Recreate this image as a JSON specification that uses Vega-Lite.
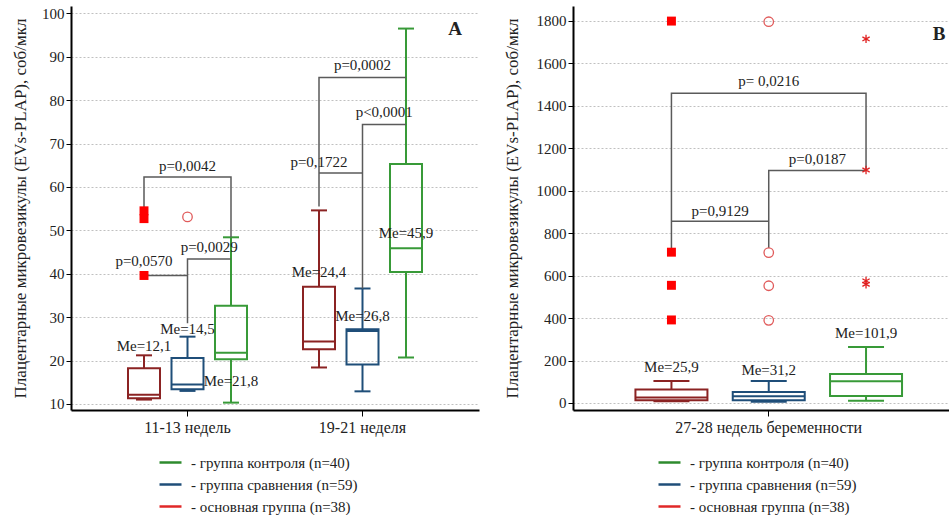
{
  "$schema": "https://vega.github.io/schema/vega-lite/v6.json",
  "padding": {"left": 11, "top": 6, "right": 0, "bottom": 0},
  "spacing": 24,
  "config": {
    "font": "Liberation Serif, Times New Roman, serif",
    "view": {"stroke": null},
    "text": {"font": "Liberation Serif, Times New Roman, serif"},
    "axis": {
      "labelFont": "Liberation Serif, Times New Roman, serif", "titleFont": "Liberation Serif, Times New Roman, serif",
      "domainColor": "#000", "domainWidth": 2, "tickColor": "#000", "tickWidth": 1, "tickSize": 5,
      "labelColor": "#222", "labelFontSize": 15, "titleColor": "#222", "titleFontSize": 17, "titleFontWeight": "normal",
      "gridColor": "#c0c0c0", "gridDash": [2, 2], "gridWidth": 1, "labelLimit": 400
    },
    "legend": {"labelFont": "Liberation Serif, Times New Roman, serif", "labelFontSize": 15, "labelColor": "#222", "labelLimit": 400}
  },
  "datasets": {
    "boxA": [
      {"period": "11-13 недель", "slot": "основная группа (n=38)", "low": 11.0, "q1": 11.3, "median": 12.1, "q3": 18.2, "high": 21.2},
      {"period": "11-13 недель", "slot": "группа сравнения (n=59)", "low": 13.0, "q1": 13.4, "median": 14.5, "q3": 20.6, "high": 25.5},
      {"period": "11-13 недель", "slot": "группа контроля (n=40)", "low": 10.3, "q1": 20.3, "median": 21.8, "q3": 32.6, "high": 48.4},
      {"period": "19-21 неделя", "slot": "основная группа (n=38)", "low": 18.4, "q1": 22.6, "median": 24.4, "q3": 37.0, "high": 54.6},
      {"period": "19-21 неделя", "slot": "группа сравнения (n=59)", "low": 12.9, "q1": 19.1, "median": 26.8, "q3": 27.2, "high": 36.6},
      {"period": "19-21 неделя", "slot": "группа контроля (n=40)", "low": 20.7, "q1": 40.4, "median": 45.9, "q3": 65.3, "high": 96.5}
    ],
    "boxB": [
      {"period": "27-28 недель беременности", "slot": "основная группа (n=38)", "low": 8, "q1": 12.8, "median": 25.9, "q3": 63, "high": 103.7},
      {"period": "27-28 недель беременности", "slot": "группа сравнения (n=59)", "low": 6, "q1": 12.8, "median": 31.2, "q3": 52, "high": 103.7},
      {"period": "27-28 недель беременности", "slot": "группа контроля (n=40)", "low": 11, "q1": 33, "median": 101.9, "q3": 137, "high": 264}
    ],
    "outA": [
      {"period": "11-13 недель", "slot": "основная группа (n=38)", "value": 39.6},
      {"period": "11-13 недель", "slot": "основная группа (n=38)", "value": 52.7},
      {"period": "11-13 недель", "slot": "основная группа (n=38)", "value": 54.5},
      {"period": "11-13 недель", "slot": "группа сравнения (n=59)", "value": 53.1}
    ],
    "outB": [
      {"period": "27-28 недель беременности", "slot": "основная группа (n=38)", "value": 1798},
      {"period": "27-28 недель беременности", "slot": "основная группа (n=38)", "value": 710},
      {"period": "27-28 недель беременности", "slot": "основная группа (n=38)", "value": 554},
      {"period": "27-28 недель беременности", "slot": "основная группа (n=38)", "value": 391},
      {"period": "27-28 недель беременности", "slot": "группа сравнения (n=59)", "value": 1795},
      {"period": "27-28 недель беременности", "slot": "группа сравнения (n=59)", "value": 708},
      {"period": "27-28 недель беременности", "slot": "группа сравнения (n=59)", "value": 552},
      {"period": "27-28 недель беременности", "slot": "группа сравнения (n=59)", "value": 389},
      {"period": "27-28 недель беременности", "slot": "группа контроля (n=40)", "value": 1714},
      {"period": "27-28 недель беременности", "slot": "группа контроля (n=40)", "value": 1097},
      {"period": "27-28 недель беременности", "slot": "группа контроля (n=40)", "value": 575},
      {"period": "27-28 недель беременности", "slot": "группа контроля (n=40)", "value": 559}
    ],
    "brA": [
      {"id": "b1", "ord": 1, "period": "11-13 недель", "slot": "основная группа (n=38)", "value": 55.3},
      {"id": "b1", "ord": 2, "period": "11-13 недель", "slot": "основная группа (n=38)", "value": 62.3},
      {"id": "b1", "ord": 3, "period": "11-13 недель", "slot": "группа контроля (n=40)", "value": 62.3},
      {"id": "b1", "ord": 4, "period": "11-13 недель", "slot": "группа контроля (n=40)", "value": 48.4},
      {"id": "b2", "ord": 1, "period": "11-13 недель", "slot": "основная группа (n=38)", "value": 39.6},
      {"id": "b2", "ord": 2, "period": "11-13 недель", "slot": "группа сравнения (n=59)", "value": 39.6},
      {"id": "b3", "ord": 1, "period": "11-13 недель", "slot": "группа сравнения (n=59)", "value": 28.6},
      {"id": "b3", "ord": 2, "period": "11-13 недель", "slot": "группа сравнения (n=59)", "value": 43.4},
      {"id": "b3", "ord": 3, "period": "11-13 недель", "slot": "группа контроля (n=40)", "value": 43.4},
      {"id": "b4", "ord": 1, "period": "19-21 неделя", "slot": "основная группа (n=38)", "value": 55.5},
      {"id": "b4", "ord": 2, "period": "19-21 неделя", "slot": "основная группа (n=38)", "value": 85.2},
      {"id": "b4", "ord": 3, "period": "19-21 неделя", "slot": "группа контроля (n=40)", "value": 85.2},
      {"id": "b5", "ord": 1, "period": "19-21 неделя", "slot": "основная группа (n=38)", "value": 63.2},
      {"id": "b5", "ord": 2, "period": "19-21 неделя", "slot": "группа сравнения (n=59)", "value": 63.2},
      {"id": "b6", "ord": 1, "period": "19-21 неделя", "slot": "группа сравнения (n=59)", "value": 36.6},
      {"id": "b6", "ord": 2, "period": "19-21 неделя", "slot": "группа сравнения (n=59)", "value": 74.4},
      {"id": "b6", "ord": 3, "period": "19-21 неделя", "slot": "группа контроля (n=40)", "value": 74.4}
    ],
    "brB": [
      {"id": "b7", "ord": 1, "period": "27-28 недель беременности", "slot": "основная группа (n=38)", "value": 730},
      {"id": "b7", "ord": 2, "period": "27-28 недель беременности", "slot": "основная группа (n=38)", "value": 1458},
      {"id": "b7", "ord": 3, "period": "27-28 недель беременности", "slot": "группа контроля (n=40)", "value": 1458},
      {"id": "b7", "ord": 4, "period": "27-28 недель беременности", "slot": "группа контроля (n=40)", "value": 1097},
      {"id": "b8", "ord": 1, "period": "27-28 недель беременности", "slot": "группа сравнения (n=59)", "value": 730},
      {"id": "b8", "ord": 2, "period": "27-28 недель беременности", "slot": "группа сравнения (n=59)", "value": 1094},
      {"id": "b8", "ord": 3, "period": "27-28 недель беременности", "slot": "группа контроля (n=40)", "value": 1094},
      {"id": "b9", "ord": 1, "period": "27-28 недель беременности", "slot": "основная группа (n=38)", "value": 856},
      {"id": "b9", "ord": 2, "period": "27-28 недель беременности", "slot": "группа сравнения (n=59)", "value": 856}
    ],
    "lblA": [
      {"kind": "note", "period": "11-13 недель", "slot": "основная группа (n=38)", "value": 23.4, "text": "Me=12,1"},
      {"kind": "note", "period": "11-13 недель", "slot": "группа сравнения (n=59)", "value": 27.3, "text": "Me=14,5"},
      {"kind": "note", "period": "11-13 недель", "slot": "группа контроля (n=40)", "value": 15.3, "text": "Me=21,8"},
      {"kind": "note", "period": "19-21 неделя", "slot": "основная группа (n=38)", "value": 40.3, "text": "Me=24,4"},
      {"kind": "note", "period": "19-21 неделя", "slot": "группа сравнения (n=59)", "value": 30.3, "text": "Me=26,8"},
      {"kind": "note", "period": "19-21 неделя", "slot": "группа контроля (n=40)", "value": 49.5, "text": "Me=45,9"},
      {"kind": "note", "period": "11-13 недель", "slot": "группа сравнения (n=59)", "value": 64.8, "text": "p=0,0042"},
      {"kind": "note", "period": "11-13 недель", "slot": "основная группа (n=38)", "value": 43.0, "text": "p=0,0570"},
      {"kind": "note", "period": "11-13 недель", "slot": "сравнения–контроль", "value": 46.2, "text": "p=0,0029"},
      {"kind": "note", "period": "19-21 неделя", "slot": "основная группа (n=38)", "value": 65.7, "text": "p=0,1722"},
      {"kind": "note", "period": "19-21 неделя", "slot": "сравнения–контроль", "value": 77.3, "text": "p<0,0001"},
      {"kind": "note", "period": "19-21 неделя", "slot": "группа сравнения (n=59)", "value": 88.0, "text": "p=0,0002"},
      {"kind": "panel", "period": "19-21 неделя", "slot": "группа контроля (n=40)", "value": 96.5, "text": "A"}
    ],
    "lblB": [
      {"kind": "note", "period": "27-28 недель беременности", "slot": "основная группа (n=38)", "value": 168, "text": "Me=25,9"},
      {"kind": "note", "period": "27-28 недель беременности", "slot": "группа сравнения (n=59)", "value": 155, "text": "Me=31,2"},
      {"kind": "note", "period": "27-28 недель беременности", "slot": "группа контроля (n=40)", "value": 331, "text": "Me=101,9"},
      {"kind": "note", "period": "27-28 недель беременности", "slot": "группа сравнения (n=59)", "value": 1516, "text": "p= 0,0216"},
      {"kind": "note", "period": "27-28 недель беременности", "slot": "сравнения–контроль", "value": 1149, "text": "p=0,0187"},
      {"kind": "note", "period": "27-28 недель беременности", "slot": "основная–сравнения", "value": 905, "text": "p=0,9129"},
      {"kind": "panel", "period": "27-28 недель беременности", "slot": "группа контроля (n=40)", "value": 1736, "text": "B"}
    ]
  },
  "resolve": {"scale": {"color": "independent", "stroke": "independent", "x": "independent", "y": "independent", "xOffset": "independent"}, "legend": {"color": "independent", "stroke": "independent"}},
  "hconcat": [
    {
      "width": 408,
      "height": 404,
      "encoding": {
        "x": {"field": "period", "type": "nominal", "scale": {"domain": ["11-13 недель", "19-21 неделя"], "paddingInner": 0.3786, "paddingOuter": 0.355},
              "axis": {"title": null, "labelAngle": 0, "labelFontSize": 16, "tickSize": 6, "labelPadding": 3, "grid": false}},
        "xOffset": {"field": "slot", "type": "nominal", "scale": {"domain": ["основная группа (n=38)", "основная–сравнения", "группа сравнения (n=59)", "сравнения–контроль", "группа контроля (n=40)"]}}
      },
      "layer": [
        {
          "data": {"name": "boxA"},
          "mark": {"type": "rule", "strokeWidth": 2, "opacity": 1},
          "encoding": {
            "y": {"field": "low", "type": "quantitative", "scale": {"domain": [8.6, 101.7], "nice": false, "zero": false},
                  "axis": {"title": "Плацентарные микровезикулы (EVs-PLAP), соб/мкл", "titlePadding": 12,
                           "values": [10, 15, 20, 25, 30, 35, 40, 45, 50, 55, 60, 65, 70, 75, 80, 85, 90, 95, 100],
                           "labelExpr": "datum.value % 10 === 0 ? datum.label : ''", "labelPadding": 2,
                           "gridOpacity": {"condition": {"test": "datum.value % 10 === 0", "value": 1}, "value": 0}}},
            "y2": {"field": "q1"},
            "color": {"field": "slot", "type": "nominal",
                      "scale": {"domain": ["основная группа (n=38)", "группа сравнения (n=59)", "группа контроля (n=40)"], "range": ["#8b2323", "#1f4e79", "#389a38"]},
                      "legend": null}
          }
        },
        {
          "data": {"name": "boxA"},
          "mark": {"type": "rule", "strokeWidth": 2, "opacity": 1},
          "encoding": {"y": {"field": "q3", "type": "quantitative"}, "y2": {"field": "high"}, "color": {"field": "slot", "type": "nominal", "legend": null}}
        },
        {
          "data": {"name": "boxA"},
          "mark": {"type": "bar", "filled": false, "size": 32, "strokeWidth": 2, "opacity": 1},
          "encoding": {"y": {"field": "q1", "type": "quantitative"}, "y2": {"field": "q3"}, "color": {"field": "slot", "type": "nominal", "legend": null}}
        },
        {
          "data": {"name": "boxA"},
          "mark": {"type": "tick", "size": 32, "thickness": 2, "opacity": 1},
          "encoding": {"y": {"field": "median", "type": "quantitative"}, "color": {"field": "slot", "type": "nominal", "legend": null}}
        },
        {
          "data": {"name": "boxA"},
          "mark": {"type": "tick", "size": 16, "thickness": 2, "opacity": 1},
          "encoding": {"y": {"field": "low", "type": "quantitative"}, "color": {"field": "slot", "type": "nominal", "legend": null}}
        },
        {
          "data": {"name": "boxA"},
          "mark": {"type": "tick", "size": 16, "thickness": 2, "opacity": 1},
          "encoding": {"y": {"field": "high", "type": "quantitative"}, "color": {"field": "slot", "type": "nominal", "legend": null}}
        },
        {
          "data": {"name": "boxA"},
          "mark": {"type": "rule", "strokeWidth": 2, "opacity": 1},
          "encoding": {
            "y": {"field": "low", "type": "quantitative"}, "y2": {"field": "low"},
            "stroke": {"field": "slot", "type": "nominal",
                       "scale": {"domain": ["группа контроля (n=40)", "группа сравнения (n=59)", "основная группа (n=38)"], "range": ["#2e8b2e", "#1f4e79", "#e02828"]},
                       "legend": {"orient": "none", "legendX": 87, "legendY": 444, "direction": "vertical", "title": null,
                                  "symbolType": "stroke", "symbolSize": 484, "symbolStrokeWidth": 2.5, "symbolOpacity": 1, "labelOffset": 8, "rowPadding": 1,
                                  "labelExpr": "'- ' + datum.label"}}
          }
        },
        {
          "data": {"name": "brA"},
          "mark": {"type": "line", "color": "#5a5a5a", "strokeWidth": 1.5},
          "encoding": {"y": {"field": "value", "type": "quantitative"}, "detail": {"field": "id"}, "order": {"field": "ord", "type": "quantitative"}}
        },
        {
          "data": {"name": "outA"},
          "transform": [{"filter": "datum.slot === 'основная группа (n=38)'"}],
          "mark": {"type": "point", "shape": "square", "filled": true, "color": "#ff0000", "size": 80, "opacity": 1},
          "encoding": {"y": {"field": "value", "type": "quantitative"}}
        },
        {
          "data": {"name": "outA"},
          "transform": [{"filter": "datum.slot === 'группа сравнения (n=59)'"}],
          "mark": {"type": "point", "shape": "circle", "filled": false, "color": "#e05a5a", "size": 90, "strokeWidth": 1.3, "opacity": 1},
          "encoding": {"y": {"field": "value", "type": "quantitative"}}
        },
        {
          "data": {"name": "lblA"},
          "transform": [{"filter": "datum.kind === 'note'"}],
          "mark": {"type": "text", "font": "Liberation Serif, Times New Roman, serif", "fontSize": 15, "color": "#222", "align": "center", "baseline": "middle"},
          "encoding": {"y": {"field": "value", "type": "quantitative"}, "text": {"field": "text"}}
        },
        {
          "data": {"name": "lblA"},
          "transform": [{"filter": "datum.kind === 'panel'"}],
          "mark": {"type": "text", "font": "Liberation Serif, Times New Roman, serif", "fontSize": 19, "fontWeight": "bold", "color": "#222", "align": "center", "baseline": "middle", "dx": 49},
          "encoding": {"y": {"field": "value", "type": "quantitative"}, "text": {"field": "text"}}
        }
      ]
    },
    {
      "width": 378,
      "height": 404,
      "encoding": {
        "x": {"field": "period", "type": "nominal", "scale": {"domain": ["27-28 недель беременности"], "paddingInner": 0, "paddingOuter": 0.277, "align": 0.55},
              "axis": {"title": null, "labelAngle": 0, "labelFontSize": 16, "tickSize": 6, "labelPadding": 3, "grid": false}},
        "xOffset": {"field": "slot", "type": "nominal", "scale": {"domain": ["основная группа (n=38)", "основная–сравнения", "группа сравнения (n=59)", "сравнения–контроль", "группа контроля (n=40)"]}}
      },
      "layer": [
        {
          "data": {"name": "boxB"},
          "mark": {"type": "rule", "strokeWidth": 2, "opacity": 1},
          "encoding": {
            "y": {"field": "low", "type": "quantitative", "scale": {"domain": [-33, 1869], "nice": false, "zero": false},
                  "axis": {"title": "Плацентарные микровезикулы (EVs-PLAP), соб/мкл", "titlePadding": 15,
                           "values": [0, 100, 200, 300, 400, 500, 600, 700, 800, 900, 1000, 1100, 1200, 1300, 1400, 1500, 1600, 1700, 1800],
                           "labelExpr": "datum.value % 200 === 0 ? datum.label : ''", "labelPadding": 2, "format": "d",
                           "gridOpacity": {"condition": {"test": "datum.value % 200 === 0", "value": 1}, "value": 0}}},
            "y2": {"field": "q1"},
            "color": {"field": "slot", "type": "nominal",
                      "scale": {"domain": ["основная группа (n=38)", "группа сравнения (n=59)", "группа контроля (n=40)"], "range": ["#8b2323", "#1f4e79", "#389a38"]},
                      "legend": null}
          }
        },
        {
          "data": {"name": "boxB"},
          "mark": {"type": "rule", "strokeWidth": 2, "opacity": 1},
          "encoding": {"y": {"field": "q3", "type": "quantitative"}, "y2": {"field": "high"}, "color": {"field": "slot", "type": "nominal", "legend": null}}
        },
        {
          "data": {"name": "boxB"},
          "mark": {"type": "bar", "filled": false, "size": 72, "strokeWidth": 2, "opacity": 1},
          "encoding": {"y": {"field": "q1", "type": "quantitative"}, "y2": {"field": "q3"}, "color": {"field": "slot", "type": "nominal", "legend": null}}
        },
        {
          "data": {"name": "boxB"},
          "mark": {"type": "tick", "size": 72, "thickness": 2, "opacity": 1},
          "encoding": {"y": {"field": "median", "type": "quantitative"}, "color": {"field": "slot", "type": "nominal", "legend": null}}
        },
        {
          "data": {"name": "boxB"},
          "mark": {"type": "tick", "size": 36, "thickness": 2, "opacity": 1},
          "encoding": {"y": {"field": "low", "type": "quantitative"}, "color": {"field": "slot", "type": "nominal", "legend": null}}
        },
        {
          "data": {"name": "boxB"},
          "mark": {"type": "tick", "size": 36, "thickness": 2, "opacity": 1},
          "encoding": {"y": {"field": "high", "type": "quantitative"}, "color": {"field": "slot", "type": "nominal", "legend": null}}
        },
        {
          "data": {"name": "boxB"},
          "mark": {"type": "rule", "strokeWidth": 2, "opacity": 1},
          "encoding": {
            "y": {"field": "low", "type": "quantitative"}, "y2": {"field": "low"},
            "stroke": {"field": "slot", "type": "nominal",
                       "scale": {"domain": ["группа контроля (n=40)", "группа сравнения (n=59)", "основная группа (n=38)"], "range": ["#2e8b2e", "#1f4e79", "#e02828"]},
                       "legend": {"orient": "none", "legendX": 84, "legendY": 444, "direction": "vertical", "title": null,
                                  "symbolType": "stroke", "symbolSize": 484, "symbolStrokeWidth": 2.5, "symbolOpacity": 1, "labelOffset": 8, "rowPadding": 1,
                                  "labelExpr": "'- ' + datum.label"}}
          }
        },
        {
          "data": {"name": "brB"},
          "mark": {"type": "line", "color": "#5a5a5a", "strokeWidth": 1.5},
          "encoding": {"y": {"field": "value", "type": "quantitative"}, "detail": {"field": "id"}, "order": {"field": "ord", "type": "quantitative"}}
        },
        {
          "data": {"name": "outB"},
          "transform": [{"filter": "datum.slot === 'основная группа (n=38)'"}],
          "mark": {"type": "point", "shape": "square", "filled": true, "color": "#ff0000", "size": 80, "opacity": 1},
          "encoding": {"y": {"field": "value", "type": "quantitative"}}
        },
        {
          "data": {"name": "outB"},
          "transform": [{"filter": "datum.slot === 'группа сравнения (n=59)'"}],
          "mark": {"type": "point", "shape": "circle", "filled": false, "color": "#e05a5a", "size": 90, "strokeWidth": 1.3, "opacity": 1},
          "encoding": {"y": {"field": "value", "type": "quantitative"}}
        },
        {
          "data": {"name": "outB"},
          "transform": [{"filter": "datum.slot === 'группа контроля (n=40)'"}],
          "mark": {"type": "point", "shape": "M0,-1L0,1M-0.87,-0.5L0.87,0.5M-0.87,0.5L0.87,-0.5", "filled": false, "color": "#e02020", "size": 70, "strokeWidth": 1.3, "opacity": 1},
          "encoding": {"y": {"field": "value", "type": "quantitative"}}
        },
        {
          "data": {"name": "lblB"},
          "transform": [{"filter": "datum.kind === 'note'"}],
          "mark": {"type": "text", "font": "Liberation Serif, Times New Roman, serif", "fontSize": 15, "color": "#222", "align": "center", "baseline": "middle"},
          "encoding": {"y": {"field": "value", "type": "quantitative"}, "text": {"field": "text"}}
        },
        {
          "data": {"name": "lblB"},
          "transform": [{"filter": "datum.kind === 'panel'"}],
          "mark": {"type": "text", "font": "Liberation Serif, Times New Roman, serif", "fontSize": 19, "fontWeight": "bold", "color": "#222", "align": "center", "baseline": "middle", "dx": 73},
          "encoding": {"y": {"field": "value", "type": "quantitative"}, "text": {"field": "text"}}
        }
      ]
    }
  ]
}
